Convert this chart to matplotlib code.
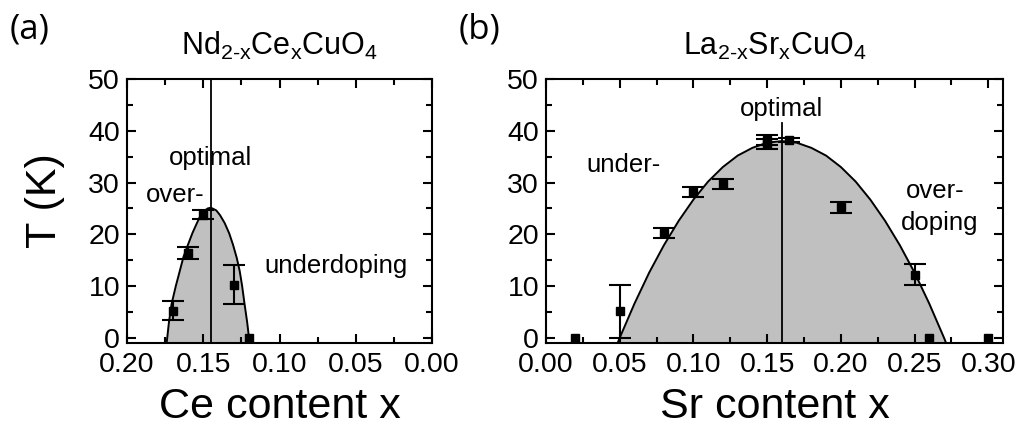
import numpy as np
import matplotlib
matplotlib.use('Agg')
import matplotlib.pyplot as plt
from matplotlib.ticker import MultipleLocator

plt.rcParams['font.family'] = ['Liberation Sans', 'DejaVu Sans']
plt.rcParams['mathtext.fontset'] = 'custom'
plt.rcParams['mathtext.rm'] = 'Liberation Sans'
plt.rcParams['mathtext.it'] = 'Liberation Sans'

# --- panel (a): Nd2-xCexCuO4 ---
nd_x = [0.170, 0.160, 0.150, 0.130, 0.120]
nd_T = [5.1, 16.4, 23.8, 10.2, 0.0]
nd_err_lo = [1.6, 1.1, 0.8, 3.6, 0.0]
nd_err_hi = [2.0, 1.2, 0.8, 3.8, 0.0]
nd_curve_x = [0.1740, 0.1725, 0.1708, 0.1680, 0.1654, 0.1630, 0.1600, 0.1570, 0.1544,
              0.1520, 0.1490, 0.1470, 0.1455, 0.1440, 0.1414, 0.1390, 0.1360, 0.1330,
              0.1305, 0.1280, 0.1261, 0.1245, 0.1229, 0.1212, 0.1196]
nd_curve_T = [-1.0, 3.0, 6.5, 10.0, 12.9, 15.6, 18.0, 20.3, 22.0,
              23.5, 24.6, 25.0, 25.1, 25.0, 24.6, 23.7, 22.2, 20.2,
              18.0, 15.4, 12.9, 10.0, 6.5, 3.0, -1.0]
nd_opt = 0.145

# --- panel (b): La2-xSrxCuO4 ---
la_x = [0.02, 0.05, 0.08, 0.10, 0.12, 0.15, 0.15, 0.165, 0.20, 0.25, 0.26, 0.30]
la_T = [0.0, 5.1, 20.2, 28.2, 29.7, 38.2, 37.4, 38.2, 25.2, 12.2, 0.0, 0.0]
la_err = [0.0, 5.1, 1.0, 1.0, 1.0, 1.0, 1.0, 0.45, 1.0, 2.0, 0.0, 0.0]
la_curve_x = [0.0486, 0.05, 0.06, 0.07, 0.08, 0.09, 0.10, 0.11, 0.12, 0.13, 0.14, 0.15, 0.16,
              0.17, 0.18, 0.19, 0.20, 0.21, 0.22, 0.23, 0.24, 0.25, 0.26, 0.27, 0.2714]
la_curve_T = [-1.0, 0.0, 6.6, 12.6, 17.9, 22.6, 26.7, 30.2, 33.0, 35.2, 36.7, 37.7, 38.0,
              37.7, 36.7, 35.2, 33.0, 30.2, 26.7, 22.6, 17.9, 12.6, 6.6, 0.0, -1.0]
la_opt = 0.16

fig = plt.figure(figsize=(10.16, 4.28), dpi=100)
axA = fig.add_axes([127/1016, 85/428, 305/1016, 264/428])
axB = fig.add_axes([546/1016, 85/428, 457/1016, 264/428])

GREY = '#c0c0c0'
YMIN = -1


def style(ax):
    ax.set_ylim(YMIN, 50)
    ax.yaxis.set_major_locator(MultipleLocator(10))
    ax.yaxis.set_minor_locator(MultipleLocator(5))
    ax.xaxis.set_major_locator(MultipleLocator(0.05))
    ax.xaxis.set_minor_locator(MultipleLocator(0.025))
    ax.tick_params(which='both', direction='in', top=True, right=True, width=1.5,
                   labelsize=20.5)
    ax.tick_params(which='major', length=6.5)
    ax.tick_params(which='minor', length=4.3)
    ax.tick_params(axis='x', pad=6.5)
    ax.tick_params(axis='y', pad=5)
    for s in ax.spines.values():
        s.set_linewidth(1.5)
    ax.xaxis.set_major_formatter(plt.FuncFormatter(lambda v, p: f'{abs(v):.2f}'))


def draw(ax, cx, cT, x, T, lo, hi):
    cx = np.array(cx); cT = np.array(cT)
    ax.fill_between(cx, cT, YMIN, color=GREY, lw=0, zorder=1)
    ax.plot(cx, cT, color='black', lw=1.4, zorder=3)
    x = np.array(x); T = np.array(T); lo = np.array(lo); hi = np.array(hi)
    m = (lo + hi) > 0
    ax.errorbar(x[m], T[m], yerr=[lo[m], hi[m]], fmt='none', ecolor='black',
                elinewidth=1.5, capsize=8, capthick=1.5, zorder=4)
    ax.plot(x, T, 's', color='black', ms=5.5, zorder=5)


# panel a
style(axA)
axA.set_xlim(0.20, 0.00)
draw(axA, nd_curve_x, nd_curve_T, nd_x, nd_T, nd_err_lo, nd_err_hi)
axA.axvline(nd_opt, color='black', lw=1.3, zorder=3)
axA.text(nd_opt, 33.3, 'optimal', ha='center', va='baseline', fontsize=18.5)
axA.text(0.1685, 26.3, 'over-', ha='center', va='baseline', fontsize=18.5)
axA.text(0.063, 12.6, 'underdoping', ha='center', va='baseline', fontsize=18.5)
axA.text(0.5, 1.09, r'$\mathregular{Nd_{2‐x}Ce_xCuO_4}$', transform=axA.transAxes,
         ha='center', va='baseline', fontsize=22)
axA.set_xlabel('Ce content x', fontsize=31)
axA.xaxis.set_label_coords(0.5, -75/264)
axA.xaxis.label.set_va('baseline')
axA.set_ylabel('T (K)', fontsize=31)
axA.yaxis.set_label_coords(-82/305, 0.539)
axA.yaxis.label.set_va('center')

# panel b
style(axB)
axB.set_xlim(0.0, 0.31)
draw(axB, la_curve_x, la_curve_T, la_x, la_T, la_err, la_err)
axB.plot([la_opt, la_opt], [YMIN, 41.5], color='black', lw=1.3, zorder=3)
axB.text(la_opt, 42.8, 'optimal', ha='center', va='baseline', fontsize=18.5)
axB.text(0.0528, 32.1, 'under-', ha='center', va='baseline', fontsize=18.5)
axB.text(0.264, 27.0, 'over-', ha='center', va='baseline', fontsize=18.5)
axB.text(0.267, 20.9, 'doping', ha='center', va='baseline', fontsize=18.5)
axB.text(0.5, 1.09, r'$\mathregular{La_{2‐x}Sr_xCuO_4}$', transform=axB.transAxes,
         ha='center', va='baseline', fontsize=22)
axB.set_xlabel('Sr content x', fontsize=31)
axB.xaxis.set_label_coords(0.5, -75/264)
axB.xaxis.label.set_va('baseline')

fig.text(30/1016, 1 - 30/428, '(a)', ha='center', va='center', fontsize=25,
         family='Open Sans')
fig.text(479/1016, 1 - 30/428, '(b)', ha='center', va='center', fontsize=25,
         family='Open Sans')

fig.savefig('out.png', dpi=100)
